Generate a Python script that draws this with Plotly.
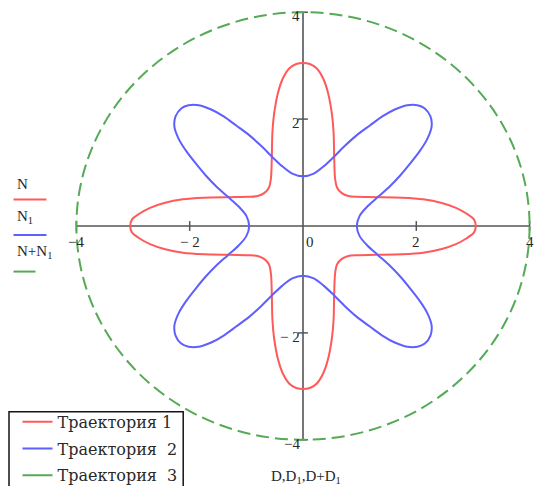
import plotly.graph_objects as go

# ---- data -------------------------------------------------------------
# Trajectory 1 (D, N): first-quadrant outline, from the x-axis to the y-axis
traj1_x = [3.05, 3.02, 2.89, 2.70, 2.45, 2.12, 1.75, 1.30, 0.95, 0.80, 0.68,
           0.60, 0.565, 0.55, 0.54, 0.51, 0.44, 0.36, 0.24, 0.12, 0.00]
traj1_y = [0.00, 0.12, 0.23, 0.34, 0.43, 0.50, 0.53, 0.54, 0.545, 0.56, 0.62,
           0.72, 0.90, 1.30, 1.75, 2.10, 2.50, 2.75, 2.95, 3.03, 3.05]

# Trajectory 2 (D1, N1): first-quadrant outline, from the x-axis to the y-axis
traj2_x = [0.95, 1.00, 1.14, 1.33, 1.53, 1.72, 1.90, 2.06, 2.19, 2.27, 2.25,
           2.15, 2.02, 1.84, 1.62, 1.40, 1.18, 0.95, 0.74, 0.55, 0.37, 0.19, 0.00]
traj2_y = [0.00, 0.19, 0.37, 0.55, 0.74, 0.95, 1.18, 1.40, 1.62, 1.86, 2.05,
           2.20, 2.26, 2.26, 2.18, 2.05, 1.88, 1.70, 1.50, 1.30, 1.12, 0.98, 0.93]

# Trajectory 3 (D+D1, N+N1): circle radius
traj3_radius = 4.0

series_names = ["Траектория 1", "Траектория  2", "Траектория  3"]
x_ticks = [-4, -2, 0, 2, 4]
x_tick_labels = ["\u22124", "\u2212 2", "0", "2", "4"]
y_ticks = [-4, -2, 2, 4]
y_tick_labels = ["\u22124", "\u2212 2", "2", "4"]
axis_limit = 4

RED = "rgb(255,90,90)"
BLUE = "rgb(95,95,255)"
GREEN = "rgb(85,170,85)"
AXIS = "rgb(85,85,85)"
TEXT = "rgb(40,40,40)"
SERIF = "Liberation Serif, Times New Roman, DejaVu Serif, serif"
LEGEND_SERIF = "DejaVu Serif, Liberation Serif, serif"


def full_loop(qx, qy):
    """Close a quadrant outline into the full curve by mirroring it."""
    xs, ys = list(qx), list(qy)
    xs += [-v for v in reversed(qx)][1:]
    ys += list(reversed(qy))[1:]
    xs += [-v for v in qx][1:]
    ys += [-v for v in qy][1:]
    xs += list(reversed(qx))[1:]
    ys += [-v for v in reversed(qy)][1:]
    return xs, ys


# ---- geometry ---------------------------------------------------------
W, H = 535, 486
ML, MR, MT, MB = 72.6, 1.6, 9.3, 43.3
PW, PH = W - ML - MR, H - MT - MB
pad = 0.06


def px(x):
    return (x - ML) / PW


def py(y):
    return (H - MB - y) / PH


fig = go.Figure()

x1, y1 = full_loop(traj1_x, traj1_y)
x2, y2 = full_loop(traj2_x, traj2_y)

fig.add_trace(go.Scatter(x=x1, y=y1, mode="lines", name=series_names[0],
                         legendgroup="t1",
                         line=dict(color=RED, width=2, shape="spline", smoothing=0.8)))
fig.add_trace(go.Scatter(x=x2, y=y2, mode="lines", name=series_names[1],
                         legendgroup="t2",
                         line=dict(color=BLUE, width=2, shape="spline", smoothing=0.8)))
# legend entry for the circle (drawn below as a shape)
fig.add_trace(go.Scatter(x=[None], y=[None], mode="lines", name=series_names[2],
                         legendgroup="t3", line=dict(color=GREEN, width=2)))

# crossed axes through the origin
fig.add_shape(type="line", x0=-axis_limit, x1=axis_limit, y0=0, y1=0,
              line=dict(color=AXIS, width=1.6), layer="below")
fig.add_shape(type="line", x0=0, x1=0, y0=-axis_limit, y1=axis_limit,
              line=dict(color=AXIS, width=1.6), layer="below")

# circle of trajectory 3
fig.add_shape(type="circle", x0=-traj3_radius, x1=traj3_radius,
              y0=-traj3_radius, y1=traj3_radius,
              line=dict(color=GREEN, width=2, dash="13px,6px"))

# tick marks
fig.add_trace(go.Scatter(x=[t for t in x_ticks if t != 0], y=[0] * 4, mode="markers",
                         marker=dict(symbol="line-ns", size=7,
                                     line=dict(color=AXIS, width=1.5)),
                         showlegend=False, hoverinfo="skip"))
fig.add_trace(go.Scatter(x=[0] * 4, y=y_ticks, mode="markers",
                         marker=dict(symbol="line-ew", size=7,
                                     line=dict(color=AXIS, width=1.5)),
                         showlegend=False, hoverinfo="skip"))

annotations = []
tick_font = dict(family=SERIF, size=15, color=TEXT)
for t, lab in zip(x_ticks, x_tick_labels):
    annotations.append(dict(x=t, y=0, xref="x", yref="y", text=lab, showarrow=False,
                            font=tick_font, xanchor="center", yanchor="middle",
                            xshift=7 if t == 0 else 0, yshift=-16))
for t, lab in zip(y_ticks, y_tick_labels):
    annotations.append(dict(x=0, y=t, xref="x", yref="y", text=lab, showarrow=False,
                            font=tick_font, xanchor="right", yanchor="middle",
                            xshift=-1, yshift=-4))

label_font = dict(family=SERIF, size=15, color=TEXT)
# stacked y-axis labels on the left
annotations += [
    dict(x=px(14), y=py(184), xref="paper", yref="paper", text="N",
         showarrow=False, font=label_font, xanchor="left", yanchor="middle"),
    dict(x=px(14), y=py(217), xref="paper", yref="paper", text="N<sub>1</sub>",
         showarrow=False, font=label_font, xanchor="left", yanchor="middle"),
    dict(x=px(14), y=py(252), xref="paper", yref="paper", text="N+N<sub>1</sub>",
         showarrow=False, font=label_font, xanchor="left", yanchor="middle"),
    dict(x=px(306), y=py(477), xref="paper", yref="paper",
         text="D,D<sub>1</sub>,D+D<sub>1</sub>",
         showarrow=False, font=label_font, xanchor="center", yanchor="middle"),
]

shapes_extra = [
    dict(type="line", xref="paper", yref="paper", x0=px(13), x1=px(46),
         y0=py(199.5), y1=py(199.5), line=dict(color=RED, width=2)),
    dict(type="line", xref="paper", yref="paper", x0=px(13), x1=px(46),
         y0=py(235), y1=py(235), line=dict(color=BLUE, width=2)),
    dict(type="line", xref="paper", yref="paper", x0=px(13), x1=px(35),
         y0=py(271.5), y1=py(271.5), line=dict(color=GREEN, width=2)),
    # frame around the legend
    dict(type="rect", xref="paper", yref="paper", x0=px(8.5), x1=px(183),
         y0=py(495), y1=py(411.5), fillcolor="white",
         line=dict(color="rgb(20,20,20)", width=1.5), layer="above"),
]
for s in shapes_extra:
    fig.add_shape(**s)

fig.update_layout(
    width=W, height=H,
    margin=dict(l=ML, r=MR, t=MT, b=MB, autoexpand=False),
    paper_bgcolor="white", plot_bgcolor="white",
    xaxis=dict(range=[-axis_limit - pad, axis_limit + pad], visible=False,
               showgrid=False, zeroline=False),
    yaxis=dict(range=[-axis_limit - pad, axis_limit + pad], visible=False,
               showgrid=False, zeroline=False),
    annotations=annotations,
    showlegend=True,
    legend=dict(x=px(17), y=py(404.5), xanchor="left", yanchor="top",
                bgcolor="rgba(0,0,0,0)", borderwidth=0,
                font=dict(family=LEGEND_SERIF, size=16, color=TEXT),
                tracegroupgap=3, itemwidth=30),
    hovermode=False,
)

fig.write_html("out.html")
